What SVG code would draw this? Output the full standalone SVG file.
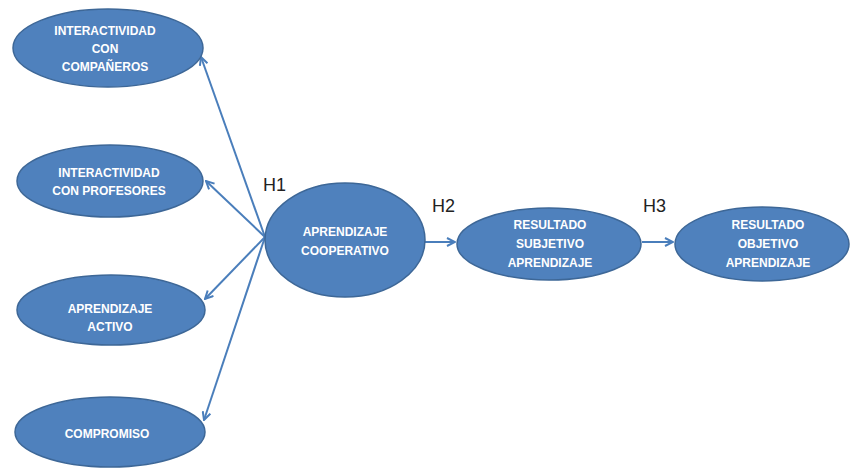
<svg xmlns="http://www.w3.org/2000/svg" width="852" height="469" viewBox="0 0 852 469">
  <style>
    .node ellipse { fill: #4f81bd; stroke: #3d6797; stroke-width: 1.5; }
    .node text { fill: #ffffff; font-family: "Liberation Sans", Arial, sans-serif; font-weight: bold; font-size: 12px; text-anchor: middle; }
    .edge { stroke: #4a7ebb; stroke-width: 2; fill: none; marker-end: url(#arrow); }
    .hlabel { fill: #222222; font-family: "Liberation Sans", Arial, sans-serif; font-size: 18px; }
  </style>
  <defs>
    <marker id="arrow" viewBox="0 0 10 10" refX="9" refY="5" markerWidth="5" markerHeight="5" orient="auto" markerUnits="strokeWidth">
      <path d="M1,1 L9,5 L1,9" fill="none" stroke="#4a7ebb" stroke-width="2"/>
    </marker>
  </defs>
  <rect width="852" height="469" fill="#ffffff"/>

  <g id="connectors">
    <line class="edge" x1="265" y1="237" x2="201" y2="57"/>
    <line class="edge" x1="265" y1="237" x2="206" y2="181"/>
    <line class="edge" x1="265" y1="237" x2="205" y2="299"/>
    <line class="edge" x1="265" y1="237" x2="204" y2="420"/>
    <line class="edge" x1="425" y1="242" x2="455" y2="242"/>
    <line class="edge" x1="642" y1="242" x2="673" y2="242"/>
  </g>

  <g id="interactividad-companeros" class="node">
    <ellipse cx="108" cy="48" rx="95" ry="39"/>
    <text x="105" y="35">INTERACTIVIDAD</text>
    <text x="105" y="53">CON</text>
    <text x="105" y="71">COMPAÑEROS</text>
  </g>

  <g id="interactividad-profesores" class="node">
    <ellipse cx="110" cy="181" rx="93" ry="36"/>
    <text x="109" y="177">INTERACTIVIDAD</text>
    <text x="109" y="195">CON PROFESORES</text>
  </g>

  <g id="aprendizaje-activo" class="node">
    <ellipse cx="111" cy="310" rx="94" ry="35"/>
    <text x="110" y="313">APRENDIZAJE</text>
    <text x="110" y="331">ACTIVO</text>
  </g>

  <g id="compromiso" class="node">
    <ellipse cx="110" cy="432" rx="95" ry="35"/>
    <text x="107" y="438">COMPROMISO</text>
  </g>

  <g id="aprendizaje-cooperativo" class="node">
    <ellipse cx="345" cy="240" rx="80" ry="57"/>
    <text x="345" y="236">APRENDIZAJE</text>
    <text x="345" y="255">COOPERATIVO</text>
  </g>

  <g id="resultado-subjetivo" class="node">
    <ellipse cx="549" cy="244" rx="92" ry="36"/>
    <text x="550" y="229">RESULTADO</text>
    <text x="550" y="248">SUBJETIVO</text>
    <text x="550" y="267">APRENDIZAJE</text>
  </g>

  <g id="resultado-objetivo" class="node">
    <ellipse cx="762" cy="244" rx="87" ry="37"/>
    <text x="768" y="229">RESULTADO</text>
    <text x="768" y="248">OBJETIVO</text>
    <text x="768" y="267">APRENDIZAJE</text>
  </g>

  <g id="labels">
    <text class="hlabel" x="263" y="191">H1</text>
    <text class="hlabel" x="432" y="212">H2</text>
    <text class="hlabel" x="643" y="212">H3</text>
  </g>
</svg>
